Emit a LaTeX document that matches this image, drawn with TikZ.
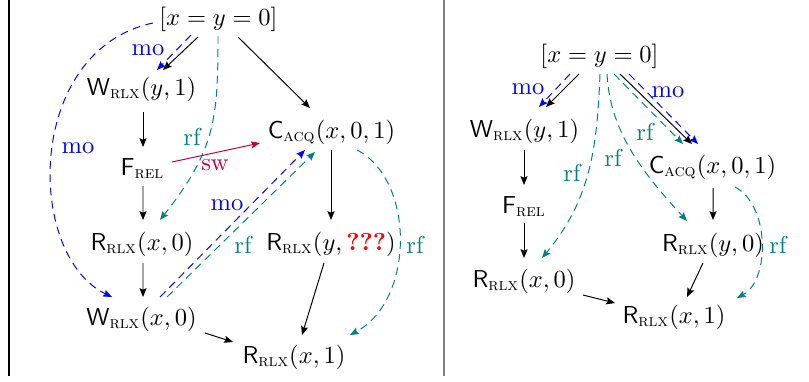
\documentclass[tikz,border=0pt]{standalone}
\usepackage{amsmath}
\usetikzlibrary{arrows.meta,calc}
\newcommand\evW{\mathsf{W}_{\textsc{rlx}}}
\newcommand\evR{\mathsf{R}_{\textsc{rlx}}}
\newcommand\evC{\mathsf{C}_{\textsc{acq}}}
\newcommand\evF{\mathsf{F}_{\textsc{rel}}}
\tikzset{
  ev/.style={anchor=base,inner sep=0pt},
  lbl/.style={inner sep=0pt,anchor=center},
  arr/.style={-{Stealth[length=3.6pt,width=2.9pt,inset=0.6pt]}},
  po/.style={arr,black},
  mo/.style={arr,blue,dash pattern=on 3.2pt off 2.2pt},
  rf/.style={arr,teal,dash pattern=on 3.2pt off 2.2pt},
  sw/.style={arr,purple},
}
\begin{document}
\begin{tikzpicture}[x=0.408pt,y=-0.408pt]
\useasboundingbox (0,0) rectangle (809,381);
\draw[line width=0.6pt] (9,0) -- (9,376);
\draw[line width=0.8pt,gray] (444,0) -- (444,376);

% ---------- left graph ----------
\node[ev] (L0)   at (218.5,25) {$[x=y=0]$};
\node[ev] (Lwy)  at (141.5,95) {$\evW(y,1)$};
\node[ev] (Lf)   at (142.5,175) {$\evF$};
\node[ev] (Lc)   at (331.5,138) {$\evC(x,0,1)$};
\node[ev] (Lrx0) at (142,250) {$\evR(x,0)$};
\node[ev] (Lry)  at (331,250) {$\evR(y,\text{\color{red}\bfseries ???})$};
\node[ev] (Lwx0) at (141.5,325) {$\evW(x,0)$};
\node[ev] (Lx1)  at (294,363) {$\evR(x,1)$};

\draw[po] ($(L0.base)+(-20.5,12)$) -- ($(Lwy.base)+(21.5,-25)$);
\draw[mo] ($(L0.base)+(-27.5,10)$) -- ($(Lwy.base)+(15.5,-25)$);
\draw[po] ($(L0.base)+(19.5,12)$) -- ($(Lc.base)+(-21.5,-30)$);
\draw[rf] ($(L0.base)+(-0.5,11)$) .. controls +(0,84) and +(55,-70) .. ($(Lrx0.base)+(18,-30)$);
\draw[mo] ($(L0.base)+(-65.5,-2)$) .. controls +(-128,27) and +(-87,-42) .. ($(Lwx0.base)+(-29.5,-28)$);
\draw[po] ($(Lwy.base)+(1.5,17)$) -- ($(Lf.base)+(0.5,-28)$);
\draw[sw] ($(Lf.base)+(29.5,-13)$) -- ($(Lc.base)+(-71.5,5)$);
\draw[po] ($(Lf.base)+(0.5,11)$) -- ($(Lrx0.base)+(1,-30)$);
\draw[po] ($(Lrx0.base)+(1,13)$) -- ($(Lwx0.base)+(1.5,-28)$);
\draw[mo] ($(Lwx0.base)+(18.5,-28)$) -- ($(Lc.base)+(-26.5,12)$);
\draw[rf] ($(Lwx0.base)+(25.5,-28)$) -- ($(Lc.base)+(-16.5,14)$);
\draw[po] ($(Lc.base)+(-0.5,12)$) -- ($(Lry.base)+(0,-30)$);
\draw[rf] ($(Lc.base)+(25.5,12)$) .. controls +(58,30) and +(65,-35) .. ($(Lx1.base)+(56,-28)$);
\draw[po] ($(Lwx0.base)+(63.5,8)$) -- ($(Lx1.base)+(-61,-21)$);
\draw[po] ($(Lry.base)+(-7,13)$) -- ($(Lx1.base)+(8,-28)$);

\node[lbl,blue]   (lmo1) at (148,50)  {mo};
\node[lbl,teal]   (lrf1) at (192,137) {rf};
\node[lbl,blue]   (lmo2) at (78,148)  {mo};
\node[lbl,purple] (lsw)  at (215,165) {sw};
\node[lbl,blue]   (lmo3) at (227,205) {mo};
\node[lbl,teal]   (lrf2) at (243,245) {rf};
\node[lbl,teal]   (lrf3) at (415,245) {rf};

% ---------- right graph ----------
\node[ev] (R0)   at (599.5,62) {$[x=y=0]$};
\node[ev] (Rwy)  at (524.5,137) {$\evW(y,1)$};
\node[ev] (Rf)   at (524,213) {$\evF$};
\node[ev] (Rc)   at (712.5,173) {$\evC(x,0,1)$};
\node[ev] (Rrx0) at (524,287) {$\evR(x,0)$};
\node[ev] (Rry0) at (713,251) {$\evR(y,0)$};
\node[ev] (Rx1)  at (674,323) {$\evR(x,1)$};

\draw[po] ($(R0.base)+(-20.5,12)$) -- ($(Rwy.base)+(21.5,-30)$);
\draw[mo] ($(R0.base)+(-29.5,12)$) -- ($(Rwy.base)+(14.5,-30)$);
\draw[po] ($(R0.base)+(20.5,12)$) -- ($(Rc.base)+(-20.5,-29)$);
\draw[mo] ($(R0.base)+(29.5,12)$) -- ($(Rc.base)+(-14.5,-29)$);
\draw[rf] ($(R0.base)+(14.5,12)$) -- ($(Rc.base)+(-29.5,-29)$);
\draw[rf] ($(R0.base)+(7.5,12)$) .. controls +(3,56) and +(-47,-51) .. ($(Rry0.base)+(-26,-30)$);
\draw[rf] ($(R0.base)+(0.5,12)$) .. controls +(-3,76) and +(48,-58) .. ($(Rrx0.base)+(18,-29)$);
\draw[po] ($(Rwy.base)+(-0.5,13)$) -- ($(Rf.base)+(0,-28)$);
\draw[po] ($(Rf.base)+(0,10)$) -- ($(Rrx0.base)+(0,-29)$);
\draw[po] ($(Rc.base)+(0.5,15)$) -- ($(Rry0.base)+(0,-31)$);
\draw[rf] ($(Rc.base)+(22.5,14)$) .. controls +(35,18) and +(33,-18) .. ($(Rx1.base)+(63,-25)$);
\draw[po] ($(Rrx0.base)+(59,8)$) -- ($(Rx1.base)+(-59,-20)$);
\draw[po] ($(Rry0.base)+(-10,12)$) -- ($(Rx1.base)+(13,-26)$);

\node[lbl,blue] (rmo1) at (528,89)  {mo};
\node[lbl,blue] (rmo2) at (668,92)  {mo};
\node[lbl,teal] (rrf1) at (645,132) {rf};
\node[lbl,teal] (rrf2) at (613,158) {rf};
\node[lbl,teal] (rrf3) at (572,173) {rf};
\node[lbl,teal] (rrf4) at (778,245) {rf};
\end{tikzpicture}
\end{document}
